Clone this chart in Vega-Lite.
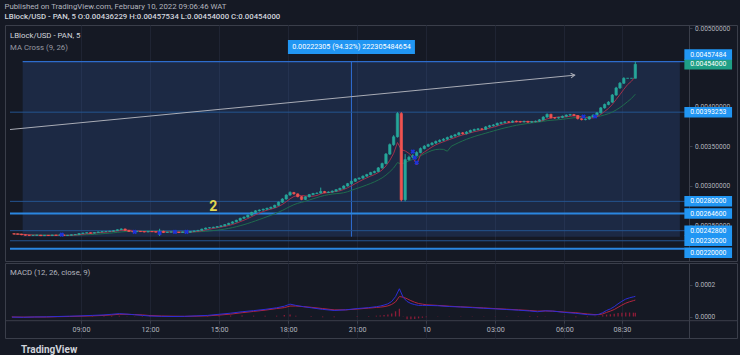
{
"$schema":"https://vega.github.io/schema/vega-lite/v6.json",
"background":"#151924",
"padding":{"left":4,"right":4,"top":2,"bottom":0},
"spacing":0,
"config":{"font":"Roboto","view":{"stroke":"#3a3e4a","strokeWidth":1},"axis":{"labelFont":"Roboto","labelColor":"#b2b5be","domainColor":"#3a3e4a","tickColor":"#3a3e4a","gridColor":"#1f2433","tickSize":3}},
"title":{"text":"Published on TradingView.com, February 10, 2022 09:06:46 WAT","subtitle":"LBlock/USD - PAN, 5 O:0.00436229 H:0.00457534 L:0.00454000 C:0.00454000","anchor":"start","frame":"bounds","font":"Roboto","fontSize":7.8,"fontWeight":"normal","color":"#b2b5be","subtitleFont":"Roboto","subtitleFontSize":7.8,"subtitleFontWeight":500,"subtitleColor":"#d1d4dc","subtitlePadding":2,"offset":4},
"datasets":{
"candles":[
{"t":"2022-02-09T06:05","o":0.002388,"h":0.002393,"l":0.002381,"c":0.002386},
{"t":"2022-02-09T06:15","o":0.002386,"h":0.002391,"l":0.002379,"c":0.002384},
{"t":"2022-02-09T06:25","o":0.002384,"h":0.002388,"l":0.002371,"c":0.002376},
{"t":"2022-02-09T06:35","o":0.002376,"h":0.002379,"l":0.002365,"c":0.00237},
{"t":"2022-02-09T06:45","o":0.00237,"h":0.002374,"l":0.002361,"c":0.002366},
{"t":"2022-02-09T06:55","o":0.002366,"h":0.002372,"l":0.002362,"c":0.002368},
{"t":"2022-02-09T07:05","o":0.002368,"h":0.002376,"l":0.002364,"c":0.002372},
{"t":"2022-02-09T07:15","o":0.002372,"h":0.002375,"l":0.00236,"c":0.002364},
{"t":"2022-02-09T07:25","o":0.002364,"h":0.002374,"l":0.002361,"c":0.00237},
{"t":"2022-02-09T07:35","o":0.00237,"h":0.002373,"l":0.002362,"c":0.002366},
{"t":"2022-02-09T07:45","o":0.002366,"h":0.002376,"l":0.002363,"c":0.002372},
{"t":"2022-02-09T07:55","o":0.002372,"h":0.002375,"l":0.002365,"c":0.002369},
{"t":"2022-02-09T08:05","o":0.002369,"h":0.002378,"l":0.002366,"c":0.002374},
{"t":"2022-02-09T08:15","o":0.002374,"h":0.002377,"l":0.002362,"c":0.002366},
{"t":"2022-02-09T08:25","o":0.002366,"h":0.002374,"l":0.002363,"c":0.00237},
{"t":"2022-02-09T08:35","o":0.00237,"h":0.00238,"l":0.002367,"c":0.002376},
{"t":"2022-02-09T08:45","o":0.002376,"h":0.002385,"l":0.002373,"c":0.00238},
{"t":"2022-02-09T08:55","o":0.00238,"h":0.002397,"l":0.002377,"c":0.002392},
{"t":"2022-02-09T09:05","o":0.002392,"h":0.002403,"l":0.002388,"c":0.002398},
{"t":"2022-02-09T09:15","o":0.002398,"h":0.002407,"l":0.002394,"c":0.002402},
{"t":"2022-02-09T09:25","o":0.002402,"h":0.002405,"l":0.002391,"c":0.002396},
{"t":"2022-02-09T09:35","o":0.002396,"h":0.002409,"l":0.002393,"c":0.002405},
{"t":"2022-02-09T09:45","o":0.002405,"h":0.002416,"l":0.002402,"c":0.002412},
{"t":"2022-02-09T09:55","o":0.002412,"h":0.00242,"l":0.002408,"c":0.002416},
{"t":"2022-02-09T10:05","o":0.002416,"h":0.002423,"l":0.002411,"c":0.002418},
{"t":"2022-02-09T10:15","o":0.002418,"h":0.002426,"l":0.002414,"c":0.002421},
{"t":"2022-02-09T10:25","o":0.002421,"h":0.002433,"l":0.002417,"c":0.002428},
{"t":"2022-02-09T10:35","o":0.002428,"h":0.002445,"l":0.002425,"c":0.00244},
{"t":"2022-02-09T10:45","o":0.00244,"h":0.002456,"l":0.002436,"c":0.00245},
{"t":"2022-02-09T10:55","o":0.00245,"h":0.002453,"l":0.002428,"c":0.002432},
{"t":"2022-02-09T11:05","o":0.002432,"h":0.002435,"l":0.002413,"c":0.002418},
{"t":"2022-02-09T11:15","o":0.002418,"h":0.002422,"l":0.002409,"c":0.002414},
{"t":"2022-02-09T11:25","o":0.002414,"h":0.002424,"l":0.00241,"c":0.00242},
{"t":"2022-02-09T11:35","o":0.00242,"h":0.002423,"l":0.002411,"c":0.002416},
{"t":"2022-02-09T11:45","o":0.002416,"h":0.002419,"l":0.002407,"c":0.002412},
{"t":"2022-02-09T11:55","o":0.002412,"h":0.002422,"l":0.002408,"c":0.002418},
{"t":"2022-02-09T12:05","o":0.002418,"h":0.002421,"l":0.00241,"c":0.002415},
{"t":"2022-02-09T12:15","o":0.002415,"h":0.002418,"l":0.002405,"c":0.00241},
{"t":"2022-02-09T12:25","o":0.00241,"h":0.002452,"l":0.002362,"c":0.00242},
{"t":"2022-02-09T12:35","o":0.00242,"h":0.002428,"l":0.002398,"c":0.002405},
{"t":"2022-02-09T12:45","o":0.002405,"h":0.002414,"l":0.0024,"c":0.00241},
{"t":"2022-02-09T12:55","o":0.00241,"h":0.002416,"l":0.002406,"c":0.002412},
{"t":"2022-02-09T13:05","o":0.002412,"h":0.002416,"l":0.002405,"c":0.00241},
{"t":"2022-02-09T13:15","o":0.00241,"h":0.002413,"l":0.002398,"c":0.002405},
{"t":"2022-02-09T13:25","o":0.002405,"h":0.002416,"l":0.002401,"c":0.002412},
{"t":"2022-02-09T13:35","o":0.002412,"h":0.002415,"l":0.0024,"c":0.002408},
{"t":"2022-02-09T13:45","o":0.002408,"h":0.002422,"l":0.002404,"c":0.002418},
{"t":"2022-02-09T13:55","o":0.002418,"h":0.00243,"l":0.002414,"c":0.002425},
{"t":"2022-02-09T14:05","o":0.002425,"h":0.002437,"l":0.002421,"c":0.002432},
{"t":"2022-02-09T14:15","o":0.002432,"h":0.002453,"l":0.002428,"c":0.002448},
{"t":"2022-02-09T14:25","o":0.002448,"h":0.002467,"l":0.002444,"c":0.002462},
{"t":"2022-02-09T14:35","o":0.002462,"h":0.002472,"l":0.002456,"c":0.002466},
{"t":"2022-02-09T14:45","o":0.002466,"h":0.002478,"l":0.002461,"c":0.002472},
{"t":"2022-02-09T14:55","o":0.002472,"h":0.002486,"l":0.002467,"c":0.00248},
{"t":"2022-02-09T15:05","o":0.00248,"h":0.002496,"l":0.002475,"c":0.00249},
{"t":"2022-02-09T15:15","o":0.00249,"h":0.002511,"l":0.002485,"c":0.002505},
{"t":"2022-02-09T15:25","o":0.002505,"h":0.002528,"l":0.0025,"c":0.002522},
{"t":"2022-02-09T15:35","o":0.002522,"h":0.002547,"l":0.002517,"c":0.00254},
{"t":"2022-02-09T15:45","o":0.00254,"h":0.002567,"l":0.002534,"c":0.00256},
{"t":"2022-02-09T15:55","o":0.00256,"h":0.002592,"l":0.002554,"c":0.002585},
{"t":"2022-02-09T16:05","o":0.002585,"h":0.002608,"l":0.002578,"c":0.0026},
{"t":"2022-02-09T16:15","o":0.0026,"h":0.002633,"l":0.002594,"c":0.002625},
{"t":"2022-02-09T16:25","o":0.002625,"h":0.002668,"l":0.002618,"c":0.00266},
{"t":"2022-02-09T16:35","o":0.00266,"h":0.002688,"l":0.002652,"c":0.00268},
{"t":"2022-02-09T16:45","o":0.00268,"h":0.002698,"l":0.002672,"c":0.00269},
{"t":"2022-02-09T16:55","o":0.00269,"h":0.002708,"l":0.002682,"c":0.0027},
{"t":"2022-02-09T17:05","o":0.0027,"h":0.00272,"l":0.002693,"c":0.002712},
{"t":"2022-02-09T17:15","o":0.002712,"h":0.002733,"l":0.002705,"c":0.002725},
{"t":"2022-02-09T17:25","o":0.002725,"h":0.002758,"l":0.002718,"c":0.00275},
{"t":"2022-02-09T17:35","o":0.00275,"h":0.002798,"l":0.002744,"c":0.00279},
{"t":"2022-02-09T17:45","o":0.00279,"h":0.00284,"l":0.002782,"c":0.00283},
{"t":"2022-02-09T17:55","o":0.00283,"h":0.00289,"l":0.002822,"c":0.00288},
{"t":"2022-02-09T18:05","o":0.00288,"h":0.002928,"l":0.002872,"c":0.002912},
{"t":"2022-02-09T18:15","o":0.002912,"h":0.00292,"l":0.002886,"c":0.002895},
{"t":"2022-02-09T18:25","o":0.002895,"h":0.0029,"l":0.002852,"c":0.00286},
{"t":"2022-02-09T18:35","o":0.00286,"h":0.002866,"l":0.002815,"c":0.002825},
{"t":"2022-02-09T18:45","o":0.002825,"h":0.002865,"l":0.002818,"c":0.002858},
{"t":"2022-02-09T18:55","o":0.002858,"h":0.002894,"l":0.00285,"c":0.002886},
{"t":"2022-02-09T19:05","o":0.002886,"h":0.002908,"l":0.002879,"c":0.0029},
{"t":"2022-02-09T19:15","o":0.0029,"h":0.002914,"l":0.002892,"c":0.002905},
{"t":"2022-02-09T19:25","o":0.002905,"h":0.002975,"l":0.002898,"c":0.002925},
{"t":"2022-02-09T19:35","o":0.002925,"h":0.002933,"l":0.002904,"c":0.002912},
{"t":"2022-02-09T19:45","o":0.002912,"h":0.002927,"l":0.002905,"c":0.002918},
{"t":"2022-02-09T19:55","o":0.002918,"h":0.002938,"l":0.002911,"c":0.00293},
{"t":"2022-02-09T20:05","o":0.00293,"h":0.002956,"l":0.002923,"c":0.002948},
{"t":"2022-02-09T20:15","o":0.002948,"h":0.002973,"l":0.002941,"c":0.002965},
{"t":"2022-02-09T20:25","o":0.002965,"h":0.003004,"l":0.002958,"c":0.002995},
{"t":"2022-02-09T20:35","o":0.002995,"h":0.003034,"l":0.002988,"c":0.003025},
{"t":"2022-02-09T20:45","o":0.003025,"h":0.003064,"l":0.003017,"c":0.003055},
{"t":"2022-02-09T20:55","o":0.003055,"h":0.003094,"l":0.003047,"c":0.003085},
{"t":"2022-02-09T21:05","o":0.003085,"h":0.003105,"l":0.003076,"c":0.003095},
{"t":"2022-02-09T21:15","o":0.003095,"h":0.00313,"l":0.003087,"c":0.00312},
{"t":"2022-02-09T21:25","o":0.00312,"h":0.00315,"l":0.003111,"c":0.00314},
{"t":"2022-02-09T21:35","o":0.00314,"h":0.003175,"l":0.003131,"c":0.003165},
{"t":"2022-02-09T21:45","o":0.003165,"h":0.00319,"l":0.003156,"c":0.00318},
{"t":"2022-02-09T21:55","o":0.00318,"h":0.003236,"l":0.003171,"c":0.003225},
{"t":"2022-02-09T22:05","o":0.003225,"h":0.003292,"l":0.003215,"c":0.00328},
{"t":"2022-02-09T22:15","o":0.00328,"h":0.003414,"l":0.00327,"c":0.0034},
{"t":"2022-02-09T22:25","o":0.0034,"h":0.003535,"l":0.00339,"c":0.00352},
{"t":"2022-02-09T22:35","o":0.00352,"h":0.00364,"l":0.003505,"c":0.00362},
{"t":"2022-02-09T22:45","o":0.00362,"h":0.00393253,"l":0.00361,"c":0.003915},
{"t":"2022-02-09T22:55","o":0.003915,"h":0.00393253,"l":0.0028,"c":0.00282},
{"t":"2022-02-09T23:05","o":0.00282,"h":0.0034,"l":0.0028,"c":0.00333},
{"t":"2022-02-09T23:15","o":0.00333,"h":0.00338,"l":0.003315,"c":0.00336},
{"t":"2022-02-09T23:25","o":0.00336,"h":0.003398,"l":0.003345,"c":0.00338},
{"t":"2022-02-09T23:35","o":0.00338,"h":0.003436,"l":0.003368,"c":0.00342},
{"t":"2022-02-09T23:45","o":0.00342,"h":0.003484,"l":0.00341,"c":0.00347},
{"t":"2022-02-09T23:55","o":0.00347,"h":0.003514,"l":0.00346,"c":0.0035},
{"t":"2022-02-10T00:05","o":0.0035,"h":0.003533,"l":0.00349,"c":0.00352},
{"t":"2022-02-10T00:15","o":0.00352,"h":0.003553,"l":0.00351,"c":0.00354},
{"t":"2022-02-10T00:25","o":0.00354,"h":0.003573,"l":0.003528,"c":0.00356},
{"t":"2022-02-10T00:35","o":0.00356,"h":0.003588,"l":0.003548,"c":0.003575},
{"t":"2022-02-10T00:45","o":0.003575,"h":0.003602,"l":0.003563,"c":0.00359},
{"t":"2022-02-10T00:55","o":0.00359,"h":0.003622,"l":0.00358,"c":0.00361},
{"t":"2022-02-10T01:05","o":0.00361,"h":0.003642,"l":0.0036,"c":0.00363},
{"t":"2022-02-10T01:15","o":0.00363,"h":0.003657,"l":0.00362,"c":0.003645},
{"t":"2022-02-10T01:25","o":0.003645,"h":0.003682,"l":0.003636,"c":0.00367},
{"t":"2022-02-10T01:35","o":0.00367,"h":0.00368,"l":0.003648,"c":0.00366},
{"t":"2022-02-10T01:45","o":0.00366,"h":0.003691,"l":0.00365,"c":0.00368},
{"t":"2022-02-10T01:55","o":0.00368,"h":0.003711,"l":0.00367,"c":0.0037},
{"t":"2022-02-10T02:05","o":0.0037,"h":0.003723,"l":0.00369,"c":0.003712},
{"t":"2022-02-10T02:15","o":0.003712,"h":0.003731,"l":0.003702,"c":0.00372},
{"t":"2022-02-10T02:25","o":0.00372,"h":0.00373,"l":0.003704,"c":0.003715},
{"t":"2022-02-10T02:35","o":0.003715,"h":0.003756,"l":0.003706,"c":0.003745},
{"t":"2022-02-10T02:45","o":0.003745,"h":0.003771,"l":0.003735,"c":0.00376},
{"t":"2022-02-10T02:55","o":0.00376,"h":0.003781,"l":0.00375,"c":0.00377},
{"t":"2022-02-10T03:05","o":0.00377,"h":0.003801,"l":0.00376,"c":0.00379},
{"t":"2022-02-10T03:15","o":0.00379,"h":0.003811,"l":0.00378,"c":0.0038},
{"t":"2022-02-10T03:25","o":0.0038,"h":0.003821,"l":0.00379,"c":0.00381},
{"t":"2022-02-10T03:35","o":0.00381,"h":0.003818,"l":0.003795,"c":0.003805},
{"t":"2022-02-10T03:45","o":0.003805,"h":0.003828,"l":0.003796,"c":0.003818},
{"t":"2022-02-10T03:55","o":0.003818,"h":0.003826,"l":0.003803,"c":0.003812},
{"t":"2022-02-10T04:05","o":0.003812,"h":0.003822,"l":0.0038,"c":0.00381},
{"t":"2022-02-10T04:15","o":0.00381,"h":0.003825,"l":0.003801,"c":0.003815},
{"t":"2022-02-10T04:25","o":0.003815,"h":0.003823,"l":0.003797,"c":0.003806},
{"t":"2022-02-10T04:35","o":0.003806,"h":0.003821,"l":0.003798,"c":0.003812},
{"t":"2022-02-10T04:45","o":0.003812,"h":0.003826,"l":0.003803,"c":0.003817},
{"t":"2022-02-10T04:55","o":0.003817,"h":0.003845,"l":0.003808,"c":0.003835},
{"t":"2022-02-10T05:05","o":0.003835,"h":0.003881,"l":0.003826,"c":0.00387},
{"t":"2022-02-10T05:15","o":0.00387,"h":0.003916,"l":0.003862,"c":0.003905},
{"t":"2022-02-10T05:25","o":0.003905,"h":0.003912,"l":0.003852,"c":0.003862},
{"t":"2022-02-10T05:35","o":0.003862,"h":0.00387,"l":0.003848,"c":0.003858},
{"t":"2022-02-10T05:45","o":0.003858,"h":0.003874,"l":0.003849,"c":0.003865},
{"t":"2022-02-10T05:55","o":0.003865,"h":0.003889,"l":0.003856,"c":0.00388},
{"t":"2022-02-10T06:05","o":0.00388,"h":0.003904,"l":0.003871,"c":0.003895},
{"t":"2022-02-10T06:15","o":0.003895,"h":0.003911,"l":0.003886,"c":0.003902},
{"t":"2022-02-10T06:25","o":0.003902,"h":0.00391,"l":0.003881,"c":0.00389},
{"t":"2022-02-10T06:35","o":0.00389,"h":0.003896,"l":0.00384,"c":0.00385},
{"t":"2022-02-10T06:45","o":0.00385,"h":0.003856,"l":0.003828,"c":0.003838},
{"t":"2022-02-10T06:55","o":0.003838,"h":0.003854,"l":0.003829,"c":0.003845},
{"t":"2022-02-10T07:05","o":0.003845,"h":0.003882,"l":0.003837,"c":0.003873},
{"t":"2022-02-10T07:15","o":0.003873,"h":0.003904,"l":0.003864,"c":0.003895},
{"t":"2022-02-10T07:25","o":0.003895,"h":0.003934,"l":0.003886,"c":0.003924},
{"t":"2022-02-10T07:35","o":0.003924,"h":0.003998,"l":0.003915,"c":0.003987},
{"t":"2022-02-10T07:45","o":0.003987,"h":0.004042,"l":0.003977,"c":0.00403},
{"t":"2022-02-10T07:55","o":0.00403,"h":0.004072,"l":0.00402,"c":0.00406},
{"t":"2022-02-10T08:05","o":0.00406,"h":0.004163,"l":0.00405,"c":0.00415},
{"t":"2022-02-10T08:15","o":0.00415,"h":0.004254,"l":0.00414,"c":0.00424},
{"t":"2022-02-10T08:25","o":0.00424,"h":0.004315,"l":0.004228,"c":0.0043},
{"t":"2022-02-10T08:35","o":0.0043,"h":0.004375,"l":0.00429,"c":0.00436229},
{"t":"2022-02-10T08:45","o":0.00436229,"h":0.00436229,"l":0.00436229,"c":0.00436229},
{"t":"2022-02-10T08:55","o":0.00436229,"h":0.00436229,"l":0.00436229,"c":0.00436229},
{"t":"2022-02-10T09:05","o":0.00436229,"h":0.00457534,"l":0.00436229,"c":0.00454}
],
"macd":[
{"t":"2022-02-09T06:00","m":-0.000004,"s":-0.000003,"h":-0.000001},
{"t":"2022-02-09T06:30","m":-0.000005,"s":-0.000004,"h":-0.000001},
{"t":"2022-02-09T07:00","m":-0.000003,"s":-0.000003,"h":0},
{"t":"2022-02-09T07:30","m":-0.000002,"s":-0.000003,"h":0.000001},
{"t":"2022-02-09T08:00","m":0,"s":-0.000001,"h":0.000001},
{"t":"2022-02-09T08:30","m":0.000002,"s":0,"h":0.000002},
{"t":"2022-02-09T09:00","m":0.000004,"s":0.000002,"h":0.000002},
{"t":"2022-02-09T09:30","m":0.000007,"s":0.000004,"h":0.000003},
{"t":"2022-02-09T10:00","m":0.00001,"s":0.000007,"h":0.000003},
{"t":"2022-02-09T10:20","m":0.000014,"s":0.00001,"h":0.000004},
{"t":"2022-02-09T10:40","m":0.000018,"s":0.000014,"h":0.000004},
{"t":"2022-02-09T11:00","m":0.000015,"s":0.000014,"h":0.000001},
{"t":"2022-02-09T11:20","m":0.000011,"s":0.000012,"h":-0.000001},
{"t":"2022-02-09T11:40","m":0.000007,"s":0.00001,"h":-0.000003},
{"t":"2022-02-09T12:00","m":0.000003,"s":0.000006,"h":-0.000003},
{"t":"2022-02-09T12:30","m":0.000001,"s":0.000003,"h":-0.000002},
{"t":"2022-02-09T13:00","m":0,"s":0.000002,"h":-0.000002},
{"t":"2022-02-09T13:30","m":0.000001,"s":0.000001,"h":0},
{"t":"2022-02-09T14:00","m":0.000004,"s":0.000002,"h":0.000002},
{"t":"2022-02-09T14:30","m":0.000007,"s":0.000004,"h":0.000003},
{"t":"2022-02-09T15:00","m":0.000014,"s":0.000009,"h":0.000005},
{"t":"2022-02-09T15:30","m":0.000021,"s":0.000015,"h":0.000006},
{"t":"2022-02-09T16:00","m":0.00003,"s":0.000024,"h":0.000006},
{"t":"2022-02-09T16:30","m":0.000037,"s":0.000032,"h":0.000005},
{"t":"2022-02-09T17:00","m":0.000045,"s":0.00004,"h":0.000005},
{"t":"2022-02-09T17:30","m":0.000055,"s":0.00005,"h":0.000005},
{"t":"2022-02-09T17:50","m":0.000065,"s":0.000056,"h":0.000009},
{"t":"2022-02-09T18:05","m":0.000078,"s":0.000066,"h":0.000012},
{"t":"2022-02-09T18:20","m":0.00007,"s":0.000066,"h":0.000004},
{"t":"2022-02-09T18:40","m":0.000062,"s":0.000062,"h":0},
{"t":"2022-02-09T19:00","m":0.000055,"s":0.000058,"h":-0.000003},
{"t":"2022-02-09T19:30","m":0.000045,"s":0.00005,"h":-0.000005},
{"t":"2022-02-09T20:00","m":0.000038,"s":0.000042,"h":-0.000004},
{"t":"2022-02-09T20:30","m":0.000042,"s":0.000042,"h":0},
{"t":"2022-02-09T21:00","m":0.00005,"s":0.000047,"h":0.000003},
{"t":"2022-02-09T21:30","m":0.000056,"s":0.000053,"h":0.000003},
{"t":"2022-02-09T21:50","m":0.000062,"s":0.000057,"h":0.000005},
{"t":"2022-02-09T22:00","m":0.000066,"s":0.000059,"h":0.000007},
{"t":"2022-02-09T22:10","m":0.000072,"s":0.000062,"h":0.00001},
{"t":"2022-02-09T22:20","m":0.00008,"s":0.000067,"h":0.000013},
{"t":"2022-02-09T22:30","m":0.000095,"s":0.000076,"h":0.000019},
{"t":"2022-02-09T22:40","m":0.000125,"s":0.000092,"h":0.000033},
{"t":"2022-02-09T22:50","m":0.000175,"s":0.000126,"h":0.000049},
{"t":"2022-02-09T23:00","m":0.00012,"s":0.000122,"h":-0.000002},
{"t":"2022-02-09T23:10","m":0.000095,"s":0.000112,"h":-0.000017},
{"t":"2022-02-09T23:20","m":0.000082,"s":0.0001,"h":-0.000018},
{"t":"2022-02-09T23:30","m":0.000075,"s":0.00009,"h":-0.000015},
{"t":"2022-02-09T23:40","m":0.00007,"s":0.000082,"h":-0.000012},
{"t":"2022-02-09T23:50","m":0.00007,"s":0.000078,"h":-0.000008},
{"t":"2022-02-10T00:00","m":0.00007,"s":0.000074,"h":-0.000004},
{"t":"2022-02-10T00:30","m":0.000068,"s":0.00007,"h":-0.000002},
{"t":"2022-02-10T01:00","m":0.000063,"s":0.000065,"h":-0.000002},
{"t":"2022-02-10T01:30","m":0.00006,"s":0.000061,"h":-0.000001},
{"t":"2022-02-10T02:00","m":0.000056,"s":0.000058,"h":-0.000002},
{"t":"2022-02-10T02:30","m":0.000052,"s":0.000054,"h":-0.000002},
{"t":"2022-02-10T03:00","m":0.000048,"s":0.00005,"h":-0.000002},
{"t":"2022-02-10T03:30","m":0.000044,"s":0.000046,"h":-0.000002},
{"t":"2022-02-10T04:00","m":0.00004,"s":0.000042,"h":-0.000002},
{"t":"2022-02-10T04:30","m":0.000035,"s":0.000038,"h":-0.000003},
{"t":"2022-02-10T04:50","m":0.00003,"s":0.000034,"h":-0.000004},
{"t":"2022-02-10T05:10","m":0.000036,"s":0.000035,"h":0.000001},
{"t":"2022-02-10T05:30","m":0.000034,"s":0.000034,"h":0},
{"t":"2022-02-10T06:00","m":0.000026,"s":0.000028,"h":-0.000002},
{"t":"2022-02-10T06:30","m":0.00002,"s":0.000024,"h":-0.000004},
{"t":"2022-02-10T07:00","m":0.000012,"s":0.000016,"h":-0.000004},
{"t":"2022-02-10T07:20","m":0.00001,"s":0.000012,"h":-0.000002},
{"t":"2022-02-10T07:30","m":0.000014,"s":0.000012,"h":0.000002},
{"t":"2022-02-10T07:40","m":0.000024,"s":0.000016,"h":0.000008},
{"t":"2022-02-10T07:50","m":0.000038,"s":0.000026,"h":0.000012},
{"t":"2022-02-10T08:00","m":0.000048,"s":0.000034,"h":0.000014},
{"t":"2022-02-10T08:10","m":0.000062,"s":0.000044,"h":0.000018},
{"t":"2022-02-10T08:20","m":0.00008,"s":0.000058,"h":0.000022},
{"t":"2022-02-10T08:30","m":0.000096,"s":0.000072,"h":0.000024},
{"t":"2022-02-10T08:40","m":0.00011,"s":0.000084,"h":0.000026},
{"t":"2022-02-10T08:50","m":0.000118,"s":0.000093,"h":0.000025},
{"t":"2022-02-10T09:00","m":0.000124,"s":0.0001,"h":0.000024},
{"t":"2022-02-10T09:05","m":0.000127,"s":0.000104,"h":0.000023}
],
"levels":[
{"p":0.00457484,"kind":"edge","nudge":"up"},
{"p":0.00454,"kind":"last","nudge":"none"},
{"p":0.00393253,"kind":"thin","nudge":"none"},
{"p":0.0028,"kind":"thin","nudge":"none"},
{"p":0.002646,"kind":"bold","nudge":"none"},
{"p":0.002428,"kind":"thin","nudge":"none"},
{"p":0.0023,"kind":"thin","nudge":"none"},
{"p":0.0022,"kind":"bold","nudge":"down"}
],
"range":[{"t0":"2022-02-09T06:28","t1":"2022-02-10T11:01","tm":"2022-02-09T20:45","p0":0.00235179,"p1":0.00457484,"label":"0.00222305 (94.32%) 222305484654"}],
"trend":[{"t":"2022-02-09T05:55","p":0.003712},{"t":"2022-02-10T06:27","p":0.004402}],
"crosses":[
{"t":"2022-02-09T08:10","p":0.002377},
{"t":"2022-02-09T11:20","p":0.002412},
{"t":"2022-02-09T12:25","p":0.002399},
{"t":"2022-02-09T13:05","p":0.002412},
{"t":"2022-02-09T13:35","p":0.002412},
{"t":"2022-02-09T23:25","p":0.003432},
{"t":"2022-02-09T23:30","p":0.003356},
{"t":"2022-02-09T23:35","p":0.003292},
{"t":"2022-02-10T06:50","p":0.003877},
{"t":"2022-02-10T07:20","p":0.003877}
],
"notes":[{"t":"2022-02-09T14:45","p":0.00273,"label":"2"}]
},
"vconcat":[
{
"width":732,"height":236,
"title":{"text":"LBlock/USD - PAN, 5","subtitle":"MA Cross (9, 26)","anchor":"start","orient":"top","offset":-27,"dx":5,"font":"Roboto","fontSize":7.8,"fontWeight":"normal","color":"#d1d4dc","subtitleFont":"Roboto","subtitleFontSize":7.8,"subtitleColor":"#9598a1","subtitlePadding":4},
"layer":[
{"data":{"name":"range"},"mark":{"type":"rect","fill":"#3d77d6","fillOpacity":0.18},
"encoding":{"x":{"field":"t0","type":"temporal","title":null,"scale":{"domain":[{"year":2022,"month":2,"date":9,"hours":5,"minutes":55},{"year":2022,"month":2,"date":10,"hours":13,"minutes":17}],"nice":false},
"axis":{"values":[{"year":2022,"month":2,"date":9,"hours":9},{"year":2022,"month":2,"date":9,"hours":12},{"year":2022,"month":2,"date":9,"hours":15},{"year":2022,"month":2,"date":9,"hours":18},{"year":2022,"month":2,"date":9,"hours":21},{"year":2022,"month":2,"date":10,"hours":0},{"year":2022,"month":2,"date":10,"hours":3},{"year":2022,"month":2,"date":10,"hours":6},{"year":2022,"month":2,"date":10,"hours":8,"minutes":30}],"labels":false,"ticks":false,"domain":false,"grid":true,"gridColor":"#1f2433"}},
"x2":{"field":"t1"},
"y":{"field":"p1","type":"quantitative","title":null,"scale":{"domain":[0.002043,0.005039],"nice":false,"zero":false},
"axis":{"orient":"right","offset":-48,"values":[0.0025,0.003,0.0035,0.004,0.005],"format":".8f","grid":false,"tickSize":3,"labelPadding":2.5,"labelFontSize":6.6,"labelColor":"#b2b5be"}},
"y2":{"field":"p0"}}},
{"data":{"name":"range"},"mark":{"type":"rule","color":"#2f6fd6","strokeWidth":1},
"encoding":{"x":{"field":"tm","type":"temporal","title":null},"y":{"field":"p1","type":"quantitative","title":null},"y2":{"field":"p0"}}},
{"data":{"name":"levels"},"transform":[{"filter":"datum.kind == 'thin'"}],"mark":{"type":"rule","color":"#24548f","strokeWidth":1},
"encoding":{"x":{"datum":{"year":2022,"month":2,"date":9,"hours":5,"minutes":55},"type":"temporal"},"x2":{"datum":{"year":2022,"month":2,"date":10,"hours":11,"minutes":14}},
"y":{"field":"p","type":"quantitative","title":null}}},
{"data":{"name":"levels"},"transform":[{"filter":"datum.kind == 'bold'"}],"mark":{"type":"rule","color":"#2a86e0","strokeWidth":2},
"encoding":{"x":{"datum":{"year":2022,"month":2,"date":9,"hours":5,"minutes":55},"type":"temporal"},"x2":{"datum":{"year":2022,"month":2,"date":10,"hours":11,"minutes":14}},
"y":{"field":"p","type":"quantitative","title":null}}},
{"data":{"name":"levels"},"transform":[{"filter":"datum.kind == 'edge'"}],"mark":{"type":"rule","color":"#2d6ccc","strokeWidth":1.3},
"encoding":{"x":{"datum":{"year":2022,"month":2,"date":9,"hours":6,"minutes":28},"type":"temporal"},"x2":{"datum":{"year":2022,"month":2,"date":10,"hours":11,"minutes":14}},
"y":{"field":"p","type":"quantitative","title":null}}},
{"data":{"name":"trend"},"mark":{"type":"line","color":"#a9acb6","strokeWidth":1},
"encoding":{"x":{"field":"t","type":"temporal","title":null},"y":{"field":"p","type":"quantitative","title":null}}},
{"data":{"name":"trend"},"transform":[{"filter":"datum.p > 0.004"}],"mark":{"type":"point","shape":"M-1,-0.6L0,0L-1,0.6","filled":false,"stroke":"#a9acb6","strokeWidth":1,"size":60,"angle":-5.4,"opacity":1},
"encoding":{"x":{"field":"t","type":"temporal","title":null},"y":{"field":"p","type":"quantitative","title":null}}},
{"data":{"name":"candles"},"transform":[{"window":[{"op":"mean","field":"c","as":"ma"}],"frame":[-12,0],"sort":[{"field":"t"}]}],"mark":{"type":"line","color":"#1f6b4d","strokeWidth":1},
"encoding":{"x":{"field":"t","type":"temporal","title":null},"y":{"field":"ma","type":"quantitative","title":null}}},
{"data":{"name":"candles"},"transform":[{"window":[{"op":"mean","field":"c","as":"ma"}],"frame":[-4,0],"sort":[{"field":"t"}]}],"mark":{"type":"line","color":"#a3304a","strokeWidth":1},
"encoding":{"x":{"field":"t","type":"temporal","title":null},"y":{"field":"ma","type":"quantitative","title":null}}},
{"data":{"name":"candles"},"mark":{"type":"rule","strokeWidth":1},
"encoding":{"x":{"field":"t","type":"temporal","title":null},"y":{"field":"l","type":"quantitative","title":null},"y2":{"field":"h"},
"color":{"condition":{"test":"datum.c >= datum.o","value":"#26a69a"},"value":"#ef5350"}}},
{"data":{"name":"candles"},"mark":{"type":"bar","size":2.4,"strokeWidth":0.6},
"encoding":{"x":{"field":"t","type":"temporal","title":null},"y":{"field":"o","type":"quantitative","title":null},"y2":{"field":"c"},
"color":{"condition":{"test":"datum.c >= datum.o","value":"#26a69a"},"value":"#ef5350"},
"stroke":{"condition":{"test":"datum.c >= datum.o","value":"#26a69a"},"value":"#ef5350"}}},
{"data":{"name":"crosses"},"mark":{"type":"point","shape":"cross","filled":true,"color":"#1c33d9","size":22,"angle":45,"opacity":1},
"encoding":{"x":{"field":"t","type":"temporal","title":null},"y":{"field":"p","type":"quantitative","title":null}}},
{"data":{"name":"notes"},"mark":{"type":"text","color":"#e2d84f","fontSize":14,"fontWeight":"bold","font":"Roboto","align":"center","baseline":"middle"},
"encoding":{"x":{"field":"t","type":"temporal","title":null},"y":{"field":"p","type":"quantitative","title":null},"text":{"field":"label"}}},
{"data":{"name":"range"},"mark":{"type":"point","shape":"M-1,-0.11H1V0.11H-1Z","filled":true,"color":"#2196f3","size":16129,"yOffset":-14.5,"opacity":1,"strokeWidth":0},
"encoding":{"x":{"field":"tm","type":"temporal","title":null},"y":{"field":"p1","type":"quantitative","title":null}}},
{"data":{"name":"range"},"mark":{"type":"text","color":"#ffffff","fontSize":7.2,"font":"Roboto","align":"center","baseline":"middle","yOffset":-14.5},
"encoding":{"x":{"field":"tm","type":"temporal","title":null},"y":{"field":"p1","type":"quantitative","title":null},"text":{"field":"label"}}},
{"data":{"name":"levels"},"transform":[{"filter":"datum.nudge == 'none'"}],"mark":{"type":"point","shape":"M-1,-0.22H1V0.22H-1Z","filled":true,"size":2275,"opacity":1,"strokeWidth":0},
"encoding":{"x":{"datum":{"year":2022,"month":2,"date":10,"hours":12,"minutes":15},"type":"temporal"},"y":{"field":"p","type":"quantitative","title":null},
"color":{"condition":{"test":"datum.kind == 'last'","value":"#1f9f86"},"value":"#2196f3"}}},
{"data":{"name":"levels"},"transform":[{"filter":"datum.nudge == 'none'"}],"mark":{"type":"text","color":"#ffffff","fontSize":6.8,"font":"Roboto","align":"center","baseline":"middle"},
"encoding":{"x":{"datum":{"year":2022,"month":2,"date":10,"hours":12,"minutes":15},"type":"temporal"},"y":{"field":"p","type":"quantitative","title":null},"text":{"field":"p","type":"quantitative","format":".8f"}}},
{"data":{"name":"levels"},"transform":[{"filter":"datum.nudge == 'up'"}],"mark":{"type":"point","shape":"M-1,-0.22H1V0.22H-1Z","filled":true,"size":2275,"opacity":1,"strokeWidth":0,"color":"#2196f3","yOffset":-7},
"encoding":{"x":{"datum":{"year":2022,"month":2,"date":10,"hours":12,"minutes":15},"type":"temporal"},"y":{"field":"p","type":"quantitative","title":null}}},
{"data":{"name":"levels"},"transform":[{"filter":"datum.nudge == 'up'"}],"mark":{"type":"text","color":"#ffffff","fontSize":6.8,"font":"Roboto","align":"center","baseline":"middle","yOffset":-7},
"encoding":{"x":{"datum":{"year":2022,"month":2,"date":10,"hours":12,"minutes":15},"type":"temporal"},"y":{"field":"p","type":"quantitative","title":null},"text":{"field":"p","type":"quantitative","format":".8f"}}},
{"data":{"name":"levels"},"transform":[{"filter":"datum.nudge == 'down'"}],"mark":{"type":"point","shape":"M-1,-0.22H1V0.22H-1Z","filled":true,"size":2275,"opacity":1,"strokeWidth":0,"color":"#2196f3","yOffset":4},
"encoding":{"x":{"datum":{"year":2022,"month":2,"date":10,"hours":12,"minutes":15},"type":"temporal"},"y":{"field":"p","type":"quantitative","title":null}}},
{"data":{"name":"levels"},"transform":[{"filter":"datum.nudge == 'down'"}],"mark":{"type":"text","color":"#ffffff","fontSize":6.8,"font":"Roboto","align":"center","baseline":"middle","yOffset":4},
"encoding":{"x":{"datum":{"year":2022,"month":2,"date":10,"hours":12,"minutes":15},"type":"temporal"},"y":{"field":"p","type":"quantitative","title":null},"text":{"field":"p","type":"quantitative","format":".8f"}}}
]
},
{
"width":732,"height":75,
"title":{"text":"MACD (12, 26, close, 9)","anchor":"start","orient":"top","offset":-14,"dx":5,"font":"Roboto","fontSize":7.8,"fontWeight":"normal","color":"#b2b5be"},
"data":{"name":"macd"},
"layer":[
{"mark":{"type":"bar","size":1.3,"color":"#8c1c37"},
"encoding":{"x":{"field":"t","type":"temporal","title":null,"scale":{"domain":[{"year":2022,"month":2,"date":9,"hours":5,"minutes":55},{"year":2022,"month":2,"date":10,"hours":13,"minutes":17}],"nice":false},
"axis":{"values":[{"year":2022,"month":2,"date":9,"hours":9},{"year":2022,"month":2,"date":9,"hours":12},{"year":2022,"month":2,"date":9,"hours":15},{"year":2022,"month":2,"date":9,"hours":18},{"year":2022,"month":2,"date":9,"hours":21},{"year":2022,"month":2,"date":10,"hours":0},{"year":2022,"month":2,"date":10,"hours":3},{"year":2022,"month":2,"date":10,"hours":6},{"year":2022,"month":2,"date":10,"hours":8,"minutes":30}],"labelExpr":"hours(datum.value) == 0 ? '10' : timeFormat(datum.value, '%H:%M')","offset":-17.8,"grid":true,"gridColor":"#1f2433","labelPadding":2,"tickSize":3,"labelFlush":false,"labelOverlap":false,"labelFontSize":7.2,"labelColor":"#b2b5be"}},
"y":{"field":"h","type":"quantitative","title":null,"scale":{"domain":[-0.0001356,0.0003375],"nice":false,"zero":false},
"axis":{"orient":"right","offset":-48,"values":[0,0.0002],"format":".4f","grid":false,"tickSize":3,"labelPadding":2.5,"labelFontSize":6.6,"labelColor":"#b2b5be"}},
"y2":{"datum":0}}},
{"mark":{"type":"line","color":"#b3243f","strokeWidth":1},
"encoding":{"x":{"field":"t","type":"temporal","title":null},"y":{"field":"s","type":"quantitative","title":null}}},
{"mark":{"type":"line","color":"#2d2dd6","strokeWidth":1},
"encoding":{"x":{"field":"t","type":"temporal","title":null},"y":{"field":"m","type":"quantitative","title":null}}}
]
},
{
"width":732,"height":1,
"data":{"values":[]},
"mark":"point",
"view":{"stroke":null},
"title":{"text":"TradingView","anchor":"start","orient":"bottom","offset":5,"dx":16,"font":"Roboto","fontSize":10,"fontWeight":"bold","color":"#d1d4dc"}
}
]
}
